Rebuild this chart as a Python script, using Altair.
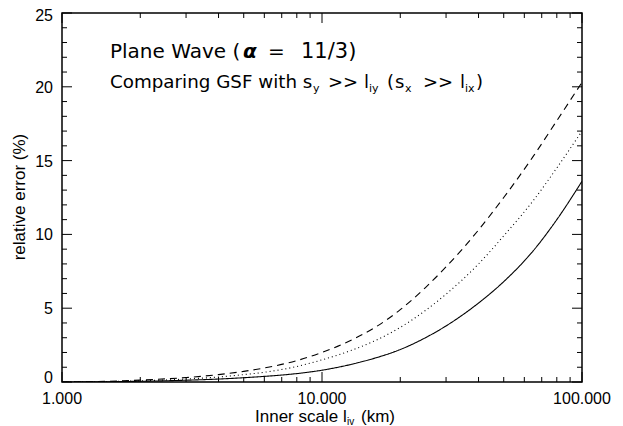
import altair as alt
import pandas as pd

# ---- data ----
scale_km = [1, 1.5, 2, 3, 4, 5, 6, 8, 10, 13, 16, 20, 25, 30, 40, 50, 65, 80, 100]
err_solid = [0.0, 0.02, 0.05, 0.12, 0.2, 0.29, 0.38, 0.57, 0.8, 1.2, 1.62, 2.2, 3.0, 3.8, 5.35, 6.8, 8.9, 11.0, 13.6]
err_dotted = [0.0, 0.03, 0.08, 0.2, 0.34, 0.5, 0.66, 1.05, 1.5, 2.15, 2.8, 3.7, 4.85, 5.95, 8.0, 9.9, 12.3, 14.5, 17.0]
err_dashed = [0.0, 0.05, 0.13, 0.3, 0.5, 0.72, 0.95, 1.45, 2.0, 2.85, 3.7, 4.9, 6.4, 7.8, 10.3, 12.5, 15.3, 17.7, 20.3]
series_names = ["solid", "dotted", "dashed"]

y_major = [0, 5, 10, 15, 20, 25]
y_minor = [v for v in range(0, 26) if v % 5 != 0]
x_major = [1, 10, 100]
x_major_labels = ["1.000", "10.000", "100.000"]
x_minor = [2, 3, 4, 5, 6, 7, 8, 9, 20, 30, 40, 50, 60, 70, 80, 90]

W, H = 520, 369
LABEL_FONT = "Liberation Sans"
ANNOT_FONT = "DejaVu Sans"

rows = []
for name, vals in zip(series_names, [err_solid, err_dotted, err_dashed]):
    for xv, yv in zip(scale_km, vals):
        rows.append({"scale": xv, "err": yv, "series": name})
df = pd.DataFrame(rows)

xs = alt.Scale(type="log", domain=[1, 100], nice=False)
ys = alt.Scale(domain=[0, 25], nice=False, zero=False)

lines = alt.Chart(df).mark_line(color="black", strokeWidth=1.1, clip=True,
                                interpolate="monotone").encode(
    x=alt.X("scale:Q", scale=xs, axis=None),
    y=alt.Y("err:Q", scale=ys, axis=None),
    strokeDash=alt.StrokeDash("series:N",
                              scale=alt.Scale(domain=series_names, range=[[1, 0], [1, 3], [7, 5]]),
                              legend=None),
    detail="series:N",
)


def yticks(vals, length, right):
    x0 = W if right else 0
    x1 = W - length if right else length
    return alt.Chart(pd.DataFrame({"v": vals})).mark_rule(color="black", strokeWidth=1).encode(
        y=alt.Y("v:Q", scale=ys, axis=None), x=alt.value(x0), x2=alt.value(x1))


def xticks(vals, length, top):
    y0 = 0 if top else H
    y1 = length if top else H - length
    return alt.Chart(pd.DataFrame({"v": vals})).mark_rule(color="black", strokeWidth=1).encode(
        x=alt.X("v:Q", scale=xs, axis=None), y=alt.value(y0), y2=alt.value(y1))


ticks = [
    yticks(y_major, 10, False), yticks(y_minor, 5, False),
    yticks(y_major, 10, True), yticks(y_minor, 5, True),
    xticks(x_major, 10, False), xticks(x_minor, 5, False),
    xticks(x_major, 10, True), xticks(x_minor, 5, True),
]


def ylabel_layer(vals, dy):
    return alt.Chart(pd.DataFrame({"v": vals})).mark_text(
        align="right", baseline="middle", font=LABEL_FONT, fontSize=16, color="black", dy=dy
    ).encode(y=alt.Y("v:Q", scale=ys, axis=None), x=alt.value(-9), text="v:Q")


ylabels = [
    ylabel_layer(y_major[1:-1], 1),
    ylabel_layer(y_major[:1], -4),
    ylabel_layer(y_major[-1:], 3),
]

xlabels = alt.Chart(pd.DataFrame({"v": x_major, "lab": x_major_labels})).mark_text(
    align="center", baseline="top", font=LABEL_FONT, fontSize=16, color="black"
).encode(x=alt.X("v:Q", scale=xs, axis=None), y=alt.value(H + 9), text="lab:N")


def seg(text, px, py, size, weight="normal", style="normal", font=ANNOT_FONT, angle=0,
        align="left", baseline="alphabetic"):
    return alt.Chart(pd.DataFrame({"t": [text]})).mark_text(
        align=align, baseline=baseline, font=font, fontSize=size, angle=angle,
        fontWeight=weight, fontStyle=style, color="black",
    ).encode(text="t:N", x=alt.value(px - 62), y=alt.value(py - 13))


titles = [
    seg("Inner scale l", 255, 422, 17, font=LABEL_FONT),
    seg("iv", 347, 425, 10, font=LABEL_FONT),
    seg("(km)", 361, 422, 17, font=LABEL_FONT),
    seg("relative error (%)", 20, 197, 17, font=LABEL_FONT, angle=270,
        align="center", baseline="middle"),
]

annot = [
    seg("Plane Wave (", 110, 58, 20),
    seg("α", 243, 58, 20, "bold", "italic"),
    seg("=", 268, 58, 20),
    seg("11/3)", 301, 58, 21),
    seg("Comparing GSF with s", 110, 88, 18.3),
    seg("y", 313, 92, 11),
    seg(">>", 328, 88, 18),
    seg("l", 364, 88, 18),
    seg("iy", 369, 92, 11),
    seg("(", 387, 88, 18),
    seg("s", 395, 88, 18),
    seg("x", 405, 92, 11),
    seg(">>", 423, 88, 18),
    seg("l", 460, 88, 18),
    seg("ix", 465, 92, 11),
    seg(")", 476, 88, 18),
]

chart = alt.layer(lines, *ticks, *ylabels, xlabels, *titles, *annot).properties(
    width=W, height=H,
    autosize=alt.AutoSizeParams(type="none"),
    padding={"left": 54, "top": 5, "right": 33, "bottom": 44},
    background="white",
).configure_view(stroke="black", strokeWidth=1.5)

chart.save("out.html", embed_options={"renderer": "svg", "actions": False})
